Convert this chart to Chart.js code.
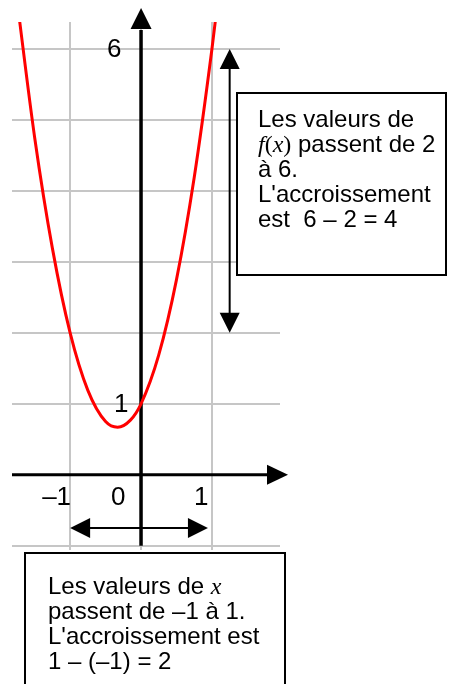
<!DOCTYPE html>
<html><head><meta charset="utf-8">
<script src="https://cdn.jsdelivr.net/npm/chart.js@4.4.1/dist/chart.umd.min.js"></script>
<style>html,body{margin:0;padding:0;background:#fff}#wrap{width:451px;height:684px;position:relative}</style>
</head><body><div id="wrap"><canvas id="c" width="451" height="684"></canvas></div>
<script>
// Curve
const curveX = [-1.75, -1.5, -1.25, -1, -0.75, -0.5, -0.33, -0.15, 0, 0.25, 0.5, 0.75, 1, 1.1];
const curveY = [6.69, 4.75, 3.19, 2, 1.19, 0.75, 0.67, 0.77, 1, 1.69, 2.75, 4.19, 6, 6.83];
// Grid / ticks
const xGridValues = [-1, 0, 1];
const yGridValues = [-1, 0, 1, 2, 3, 4, 5, 6];
const xTickLabels = ['\u20131', '0', '1'];
const xTickValues = [-1, 0, 1];
const yTickLabels = ['1', '6'];
const yTickValues = [1, 6];
// Ranges highlighted by the arrows
const yFrom = 2, yTo = 6;
const xFrom = -1, xTo = 1;

const SANS = '"Liberation Sans", Arial, sans-serif';
const SERIF = '"Liberation Serif", "Times New Roman", serif';
const F_SANS = '24px ' + SANS;
const F_TICK = '26px ' + SANS;
const F_IT = 'italic 24px ' + SERIF;
const F_SERIF = '24px ' + SERIF;

const rightBoxLines = [
  [['Les valeurs de', F_SANS]],
  [['f', F_IT], ['(', F_SERIF], ['x', F_IT], [')', F_SERIF], [' passent de 2', F_SANS]],
  [['\u00e0 6.', F_SANS]],
  [["L'accroissement", F_SANS]],
  [['est  6 \u2013 2 = 4', F_SANS]]
];
const bottomBoxLines = [
  [['Les valeurs de ', F_SANS], ['x', F_IT]],
  [['passent de \u20131 \u00e0 1.', F_SANS]],
  [["L'accroissement est", F_SANS]],
  [['1 \u2013 (\u20131) = 2', F_SANS]]
];

function drawRuns(ctx, runs, x, y) {
  let cx = x;
  for (const [t, f] of runs) {
    ctx.font = f;
    ctx.fillText(t, cx, y);
    cx += ctx.measureText(t).width;
  }
}
function tri(ctx, a, b, c) {
  ctx.beginPath(); ctx.moveTo(a[0], a[1]); ctx.lineTo(b[0], b[1]); ctx.lineTo(c[0], c[1]); ctx.closePath(); ctx.fill();
}

const deco = {
  id: 'deco',
  beforeDraw(chart) {
    const c = chart.ctx; c.save(); c.fillStyle = '#fff'; c.fillRect(0, 0, chart.width, chart.height); c.restore();
  },
  beforeDatasetsDraw(chart) {
    const c = chart.ctx, xs = chart.scales.x, ys = chart.scales.y, a = chart.chartArea;
    const x0 = xs.getPixelForValue(0), y0 = ys.getPixelForValue(0);
    c.save();
    c.fillStyle = '#000'; c.strokeStyle = '#000';
    // x axis
    c.lineWidth = 3;
    c.beginPath(); c.moveTo(a.left, y0); c.lineTo(a.right - 12, y0); c.stroke();
    tri(c, [a.right + 8, y0], [a.right - 13, y0 - 10], [a.right - 13, y0 + 10]);
    // y axis
    c.lineWidth = 3.5;
    c.beginPath(); c.moveTo(x0, ys.getPixelForValue(-1)); c.lineTo(x0, a.top + 8); c.stroke();
    tri(c, [x0, a.top - 14], [x0 - 10.5, a.top + 7], [x0 + 10.5, a.top + 7]);
    c.restore();
  },
  afterDatasetsDraw(chart) {
    const c = chart.ctx, xs = chart.scales.x, ys = chart.scales.y;
    const x0 = xs.getPixelForValue(0), y0 = ys.getPixelForValue(0);
    c.save();
    c.fillStyle = '#000'; c.strokeStyle = '#000';
    c.textAlign = 'left'; c.textBaseline = 'alphabetic';
    c.font = F_TICK;
    // y tick labels
    const yOff = { '1': [-27, 8.5], '6': [-34, 8.5] };
    yTickLabels.forEach((t, i) => {
      const o = yOff[t];
      c.fillText(t, x0 + o[0], ys.getPixelForValue(yTickValues[i]) + o[1]);
    });
    // x tick labels
    const xOff = [-28, -30, -18];
    xTickLabels.forEach((t, i) => {
      const base = xTickValues[i] === 0 ? x0 : xs.getPixelForValue(xTickValues[i]);
      c.fillText(t, base + xOff[i], y0 + 30);
    });
    // vertical double arrow (f(x) from 2 to 6)
    const xa = xs.getPixelForValue(1.25);
    const yt = ys.getPixelForValue(yTo), yb = ys.getPixelForValue(yFrom);
    c.lineWidth = 2;
    c.beginPath(); c.moveTo(xa, yt + 15); c.lineTo(xa, yb - 15); c.stroke();
    tri(c, [xa, yt], [xa - 10, yt + 20], [xa + 10, yt + 20]);
    tri(c, [xa, yb], [xa - 10, yb - 20], [xa + 10, yb - 20]);
    // horizontal double arrow (x from -1 to 1)
    const ya = ys.getPixelForValue(-0.75);
    const xl = xs.getPixelForValue(xFrom), xr = xs.getPixelForValue(xTo) - 4;
    c.beginPath(); c.moveTo(xl + 15, ya); c.lineTo(xr - 15, ya); c.stroke();
    tri(c, [xl, ya], [xl + 20, ya - 10], [xl + 20, ya + 10]);
    tri(c, [xr, ya], [xr - 20, ya - 10], [xr - 20, ya + 10]);
    // right box
    c.fillStyle = '#fff';
    c.fillRect(237, 93, 209, 182);
    c.strokeRect(237, 93, 209, 182);
    c.fillStyle = '#000';
    rightBoxLines.forEach((ln, i) => drawRuns(c, ln, 258, 127 + 25 * i));
    // bottom box
    c.fillStyle = '#fff';
    c.fillRect(25, 553, 260, 200);
    c.strokeRect(25, 553, 260, 200);
    c.fillStyle = '#000';
    bottomBoxLines.forEach((ln, i) => drawRuns(c, ln, 48, 594 + 25 * i));
    c.restore();
  }
};

const points = curveX.map((x, i) => ({ x: x, y: curveY[i] }));

new Chart(document.getElementById('c'), {
  type: 'line',
  data: { datasets: [{ data: points, borderColor: '#ff0000', borderWidth: 3, pointRadius: 0, fill: false, cubicInterpolationMode: 'monotone' }] },
  options: {
    responsive: false,
    animation: false,
    devicePixelRatio: 1,
    layout: { padding: { left: 12, right: 171, top: 22, bottom: 134 } },
    plugins: { legend: { display: false }, tooltip: { enabled: false } },
    scales: {
      x: {
        type: 'linear', min: -1.82, max: 1.96,
        ticks: { display: false },
        grid: { color: '#c6c6c6', lineWidth: 2, drawTicks: false },
        border: { display: false },
        afterBuildTicks: s => { s.ticks = xGridValues.map(v => ({ value: v })); }
      },
      y: {
        type: 'linear', min: -1.06, max: 6.38,
        ticks: { display: false },
        grid: { color: '#c6c6c6', lineWidth: 2, drawTicks: false },
        border: { display: false },
        afterBuildTicks: s => { s.ticks = yGridValues.map(v => ({ value: v })); }
      }
    }
  },
  plugins: [deco]
});
</script></body></html>
